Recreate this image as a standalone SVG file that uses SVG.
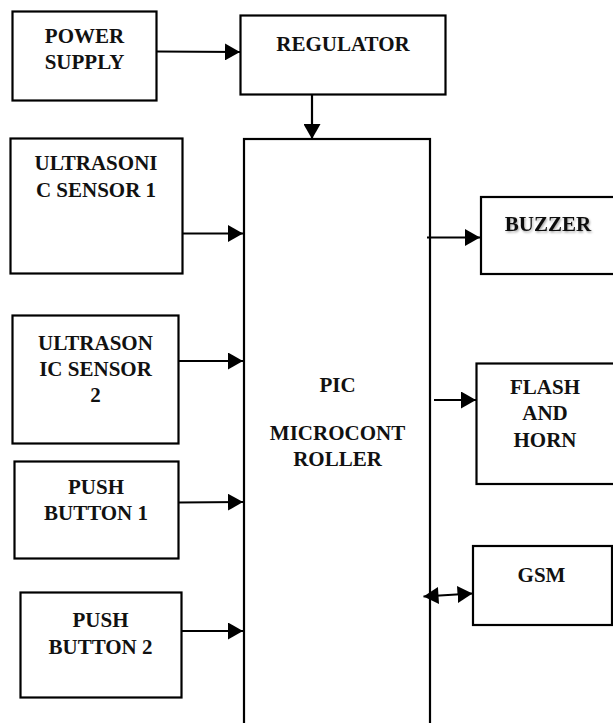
<svg xmlns="http://www.w3.org/2000/svg" width="613" height="723" viewBox="0 0 613 723">
<style>
.box{fill:#fff;stroke:#000;stroke-width:2.2}
.lbl{font-family:"Liberation Serif","Times New Roman",serif;font-weight:bold;font-size:21px;fill:#111;text-anchor:middle}
.ln{stroke:#000;stroke-width:2.2;fill:none}
</style>
<defs>
<marker id="ah" markerUnits="userSpaceOnUse" markerWidth="16" markerHeight="17" refX="15" refY="8.5" orient="auto">
<path d="M0,0 L15,8.5 L0,17 z" fill="#000"/>
</marker>
<marker id="as" markerUnits="userSpaceOnUse" markerWidth="16" markerHeight="17" refX="0" refY="8.5" orient="auto">
<path d="M15,0 L0,8.5 L15,17 z" fill="#000"/>
</marker>
<filter id="sh" x="-10%" y="-30%" width="130%" height="170%">
<feDropShadow dx="1" dy="1.5" stdDeviation="1" flood-color="#000" flood-opacity="0.35"/>
</filter>
</defs>
<rect width="613" height="723" fill="#fff"/>
<g id="power-supply">
<rect class="box" x="12.5" y="11.5" width="144" height="89"/>
<text class="lbl" x="84.5" y="43">POWER</text>
<text class="lbl" x="84.5" y="69">SUPPLY</text>
</g>
<g id="regulator">
<rect class="box" x="240.5" y="15.5" width="205" height="79"/>
<text class="lbl" x="343" y="51">REGULATOR</text>
</g>
<g id="ultrasonic-1">
<rect class="box" x="10.5" y="138.5" width="172" height="135"/>
<text class="lbl" x="96" y="170">ULTRASONI</text>
<text class="lbl" x="96" y="196.5">C SENSOR 1</text>
</g>
<g id="ultrasonic-2">
<rect class="box" x="12.5" y="315.5" width="166" height="128"/>
<text class="lbl" x="95.5" y="349.5">ULTRASON</text>
<text class="lbl" x="95.5" y="376">IC SENSOR</text>
<text class="lbl" x="95.5" y="402">2</text>
</g>
<g id="push-button-1">
<rect class="box" x="14.5" y="461.5" width="164" height="97"/>
<text class="lbl" x="96" y="494">PUSH</text>
<text class="lbl" x="96" y="520">BUTTON 1</text>
</g>
<g id="push-button-2">
<rect class="box" x="20.5" y="592.5" width="161" height="105"/>
<text class="lbl" x="100.5" y="627">PUSH</text>
<text class="lbl" x="100.5" y="653.5">BUTTON 2</text>
</g>
<g id="pic">
<rect class="box" x="244" y="139" width="186" height="600"/>
<text class="lbl" x="337.5" y="391.5">PIC</text>
<text class="lbl" x="337.5" y="439.5">MICROCONT</text>
<text class="lbl" x="337.5" y="466">ROLLER</text>
</g>
<g id="buzzer">
<rect class="box" x="481" y="197" width="140" height="77"/>
<text class="lbl" x="548" y="231" filter="url(#sh)">BUZZER</text>
</g>
<g id="flash-horn">
<rect class="box" x="476.5" y="363.5" width="145" height="120.5"/>
<text class="lbl" x="545" y="393.5">FLASH</text>
<text class="lbl" x="545" y="420">AND</text>
<text class="lbl" x="545" y="446.5">HORN</text>
</g>
<g id="gsm">
<rect class="box" x="473" y="546" width="139" height="79"/>
<text class="lbl" x="541.5" y="581.5">GSM</text>
</g>
<g id="connectors">
<line class="ln" x1="157" y1="51.5" x2="240" y2="52" marker-end="url(#ah)"/>
<line class="ln" x1="312" y1="95" x2="312" y2="139" marker-end="url(#ah)"/>
<line class="ln" x1="183" y1="233.5" x2="243" y2="233.5" marker-end="url(#ah)"/>
<line class="ln" x1="179" y1="361" x2="243" y2="361" marker-end="url(#ah)"/>
<line class="ln" x1="179" y1="502.5" x2="243" y2="502" marker-end="url(#ah)"/>
<line class="ln" x1="182" y1="631" x2="243" y2="631" marker-end="url(#ah)"/>
<line class="ln" x1="427" y1="237.5" x2="480" y2="237.5" marker-end="url(#ah)"/>
<line class="ln" x1="434" y1="400" x2="476" y2="400" marker-end="url(#ah)"/>
<line class="ln" x1="423.5" y1="596.5" x2="472.5" y2="593.5" marker-start="url(#as)" marker-end="url(#ah)"/>
</g>
</svg>
